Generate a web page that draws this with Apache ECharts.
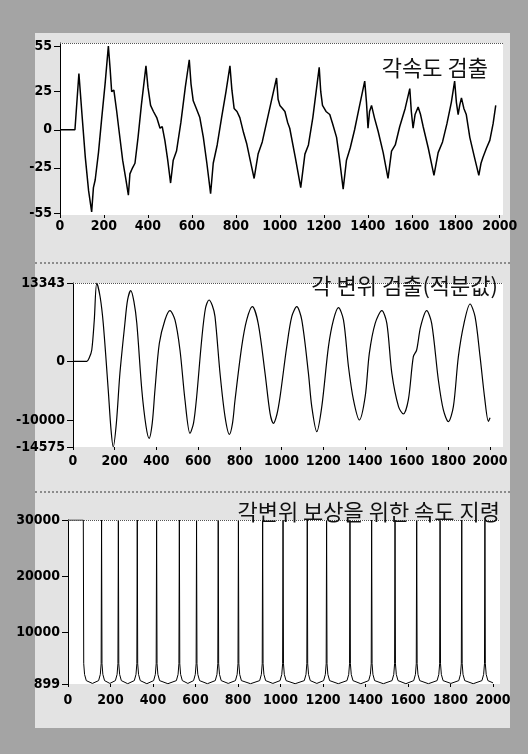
<!DOCTYPE html>
<html><head><meta charset="utf-8">
<script src="https://cdn.jsdelivr.net/npm/echarts@6/dist/echarts.min.js"></script>
<style>
html,body{margin:0;padding:0;width:528px;height:754px;overflow:hidden;background:#a4a4a4;}
#panel{position:absolute;left:35px;top:33px;width:475px;height:695px;background:#e3e3e3;}
#chart{position:absolute;left:0;top:0;width:528px;height:754px;}
.sep{position:absolute;left:35px;width:475px;height:0;border-top:2px dotted #8c8c8c;}
</style></head><body>
<div id="panel"></div>
<div class="sep" style="top:262px"></div>
<div class="sep" style="top:491px"></div>
<div id="chart"></div>
<script>
// ---- data ----
var xTicks = [0,200,400,600,800,1000,1200,1400,1600,1800,2000];
var velTicks = [55,25,0,-25,-55];
var posTicks = [13343,0,-10000,-14575];
var cmdTicks = [30000,20000,10000,899];
var titles = ['각속도 검출','각 변위 검출(적분값)','각변위 보상을 위한 속도 지령'];

// angular velocity (각속도)
var velT = [0,68,86,100,115,130,144,152,160,175,190,205,220,228,235,245,258,268,285,300,311,318,330,341,355,370,391,400,412,425,440,455,465,477,490,503,515,530,550,570,588,596,606,620,636,652,668,685,697,715,735,755,773,782,792,805,818,835,849,865,883,901,920,940,960,985,992,1000,1012,1023,1035,1045,1070,1095,1114,1130,1150,1165,1179,1186,1194,1210,1227,1240,1258,1272,1288,1303,1320,1340,1360,1386,1394,1401,1408,1417,1430,1447,1470,1492,1508,1525,1545,1570,1591,1598,1606,1615,1629,1640,1652,1675,1701,1720,1740,1760,1780,1795,1803,1811,1818,1826,1837,1848,1864,1885,1905,1915,1924,1940,1955,1970,1982];
var velVal = [0,0,37,10,-18,-40,-54,-38,-33,-15,8,30,55,40,25,26,12,0,-20,-33,-43,-29,-25,-22,-5,16,42,28,16,12,8,1,2,-7,-20,-35,-20,-14,5,28,46,30,19,14,8,-5,-22,-42,-22,-10,8,25,42,26,14,12,8,-2,-9,-20,-32,-16,-8,5,18,34,20,16,14,12,5,1,-18,-38,-16,-10,8,25,41,25,16,12,10,4,-5,-20,-39,-20,-12,0,14,32,18,1,12,16,8,-1,-15,-32,-14,-10,2,14,27,12,1,10,15,10,2,-12,-30,-15,-8,4,18,32,18,10,16,21,14,10,-5,-18,-30,-22,-18,-12,-7,4,16];

// angular displacement (각 변위)
var posT = [0,66,78,90,102,114,130,145,169,182,193,208,225,249,262,277,292,306,330,350,365,380,393,414,441,465,489,513,537,561,578,593,617,635,652,668,681,705,729,750,765,777,809,833,860,888,921,945,961,978,993,1025,1049,1073,1097,1129,1145,1169,1193,1225,1249,1273,1297,1321,1345,1373,1401,1421,1449,1481,1505,1529,1561,1584,1608,1632,1648,1667,1696,1720,1752,1776,1800,1824,1848,1875,1904,1928,1952,1975,1992,2000];
var posVal = [0,0,600,1940,7000,13343,11000,6480,-4870,-11500,-14575,-10500,-2030,6530,10500,12030,10200,6480,-4870,-11000,-13090,-10500,-4870,3080,7050,8630,7050,1940,-6570,-12240,-10500,-6010,3640,9000,10450,9500,7610,-2030,-9410,-12420,-10500,-6570,2500,7050,9310,6480,-2030,-8840,-10540,-9000,-6010,2500,7610,9310,7050,-2030,-7710,-11970,-7710,2500,7050,9140,7050,-910,-6570,-9980,-6010,1370,6480,8630,6480,-2030,-7710,-8950,-6570,800,1940,5910,8630,6480,-3170,-8270,-10260,-7710,800,6480,9770,7610,800,-6500,-10200,-9600];

// speed command (속도 지령)
var cmdT = [0,72,74,78,86,115,144,152,156,158,
 160,164,172,197,223,231,235,237,
 239,243,251,281,312,320,324,326,
 328,332,340,371,403,411,415,417,
 419,423,431,470,510,518,522,524,
 526,530,538,564,591,599,603,605,
 607,611,619,656,693,701,705,707,
 709,713,721,754,788,796,800,802,
 804,808,816,859,902,910,914,916,
 918,922,930,964,998,1006,1010,1012,
 1014,1018,1026,1069,1112,1120,1124,1126,
 1128,1132,1140,1171,1203,1211,1215,1217,
 1219,1223,1231,1272,1313,1321,1325,1327,
 1329,1333,1341,1378,1415,1423,1427,1429,
 1431,1435,1443,1484,1525,1533,1537,1539,
 1541,1545,1553,1590,1627,1635,1639,1641,
 1643,1647,1655,1696,1737,1745,1749,1751,
 1753,1757,1765,1802,1839,1847,1851,1853,
 1855,1859,1867,1907,1948,1956,1960,1962,
 1964,1968,1976,2000];
var cmdVal = [30000,30000,4500,2600,1500,1000,1500,2600,4500,30000,
 4500,2600,1500,1000,1500,2600,4500,30000,
 4500,2600,1500,950,1500,2600,4500,30000,
 4500,2600,1500,950,1500,2600,4500,30000,
 4500,2600,1500,950,1500,2600,4500,30000,
 4500,2600,1500,1000,1500,2600,4500,30000,
 4500,2600,1500,950,1500,2600,4500,30000,
 4500,2600,1500,1000,1500,2600,4500,30000,
 4500,2600,1500,950,1500,2600,4500,30000,
 4500,2600,1500,1000,1500,2600,4500,30000,
 4500,2600,1500,950,1500,2600,4500,30000,
 4500,2600,1500,1000,1500,2600,4500,30000,
 4500,2600,1500,950,1500,2600,4500,30000,
 4500,2600,1500,950,1500,2600,4500,30000,
 4500,2600,1500,950,1500,2600,4500,30000,
 4500,2600,1500,950,1500,2600,4500,30000,
 4500,2600,1500,950,1500,2600,4500,30000,
 4500,2600,1500,1000,1500,2600,4500,30000,
 4500,2600,1500,950,1500,2600,4500,30000,
 4500,2600,1500,1100];

function pairs(t, v){ return t.map(function(x,i){ return [x, v[i]]; }); }
function plain(v){ return String(v); }

var numFont = '"Liberation Sans Narrow","DejaVu Sans Condensed",sans-serif';
var labelStyle = {color:'#000', fontFamily:numFont, fontSize:14, fontWeight:'bold', formatter:plain};

function xAxis(idx, max, margin){
  return {gridIndex:idx, type:'value', min:0, max:max,
    axisLine:{show:false, onZero:false},
    axisTick:{show:true, customValues:xTicks, length:3, lineStyle:{color:'#000'}},
    axisLabel:Object.assign({customValues:xTicks, margin:margin}, labelStyle),
    splitLine:{show:false}};
}
function yAxis(idx, min, max, ticks){
  return {gridIndex:idx, type:'value', min:min, max:max,
    axisLine:{show:true, onZero:false, lineStyle:{color:'#000', width:1}},
    axisTick:{show:true, customValues:ticks, length:6, lineStyle:{color:'#000'}},
    axisLabel:Object.assign({customValues:ticks, margin:8}, labelStyle),
    splitLine:{show:false}};
}
function topLine(v){
  return {silent:true, symbol:['none','none'], label:{show:false},
    lineStyle:{type:'dotted', color:'#555', width:1}, data:[{yAxis:v}]};
}
var titleStyle = {fontFamily:'"Noto Sans CJK KR",sans-serif', fontSize:22, fontWeight:'normal', color:'#111'};

var chart = echarts.init(document.getElementById('chart'), null, {renderer:'canvas'});
chart.setOption({
  animation:false,
  title:[
    {text:titles[0], right:35, top:52, textStyle:titleStyle},
    {text:titles[1], right:25, top:270, textStyle:titleStyle},
    {text:titles[2], right:23, top:496, textStyle:titleStyle}
  ],
  grid:[
    {left:60, top:43, width:443, height:172, show:true, backgroundColor:'#fff', borderWidth:0},
    {left:73, top:283, width:430, height:164, show:true, backgroundColor:'#fff', borderWidth:0},
    {left:68, top:520, width:432, height:164, show:true, backgroundColor:'#fff', borderWidth:0}
  ],
  xAxis:[xAxis(0,2015,4), xAxis(1,2062,7), xAxis(2,2033,9)],
  yAxis:[yAxis(0,-56,57,velTicks), yAxis(1,-14575,13343,posTicks), yAxis(2,899,30000,cmdTicks)],
  series:[
    {type:'line', xAxisIndex:0, yAxisIndex:0, data:pairs(velT,velVal), showSymbol:false,
     lineStyle:{color:'#000', width:1.5}, markLine:topLine(57)},
    {type:'line', xAxisIndex:1, yAxisIndex:1, data:pairs(posT,posVal), showSymbol:false, smooth:0.3,
     lineStyle:{color:'#000', width:1.2}, markLine:topLine(13343)},
    {type:'line', xAxisIndex:2, yAxisIndex:2, data:pairs(cmdT,cmdVal), showSymbol:false,
     lineStyle:{color:'#000', width:1}, markLine:topLine(30000)}
  ]
});
</script>
</body></html>
